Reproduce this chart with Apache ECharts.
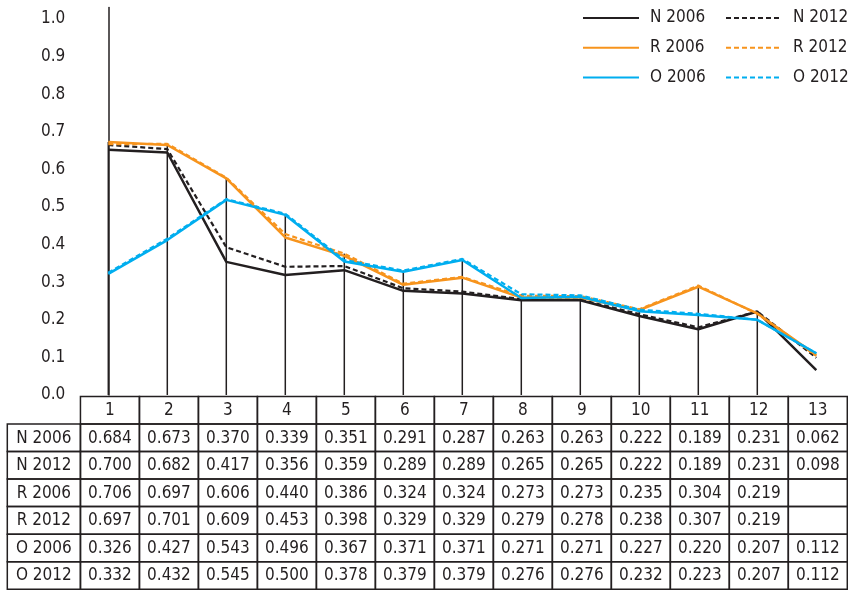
<!DOCTYPE html>
<html><head><meta charset="utf-8">
<script src="https://cdn.jsdelivr.net/npm/echarts@6/dist/echarts.min.js"></script>
<style>html,body{margin:0;padding:0;background:#fff}#c{width:848px;height:590px}</style>
</head><body><div id="c"></div>
<script>
// ---- data ----
const categories = ['1','2','3','4','5','6','7','8','9','10','11','12','13'];
const seriesNames = ['N 2006','N 2012','R 2006','R 2012','O 2006','O 2012'];
const yTickValues = [0,0.1,0.2,0.3,0.4,0.5,0.6,0.7,0.8,0.9,1.0];

// plotted line values
const lineN2006 = [0.652,0.645,0.354,0.319,0.332,0.277,0.270,0.252,0.252,0.210,0.175,0.222,0.066];
const lineN2012 = [0.665,0.654,0.393,0.341,0.343,0.284,0.275,0.255,0.254,0.215,0.180,0.222,0.099];
const lineR2006 = [0.673,0.665,0.576,0.419,0.370,0.293,0.312,0.259,0.259,0.226,0.288,0.217,0.106];
const lineR2012 = [0.667,0.668,0.578,0.428,0.376,0.296,0.314,0.264,0.263,0.228,0.291,0.216,0.104];
const lineO2006 = [0.322,0.412,0.519,0.479,0.355,0.328,0.359,0.258,0.261,0.223,0.213,0.200,0.111];
const lineO2012 = [0.325,0.416,0.521,0.482,0.359,0.331,0.362,0.268,0.265,0.227,0.216,0.200,0.111];

// data table values printed under the chart
const tableN2006 = [0.684,0.673,0.370,0.339,0.351,0.291,0.287,0.263,0.263,0.222,0.189,0.231,0.062];
const tableN2012 = [0.700,0.682,0.417,0.356,0.359,0.289,0.289,0.265,0.265,0.222,0.189,0.231,0.098];
const tableR2006 = [0.706,0.697,0.606,0.440,0.386,0.324,0.324,0.273,0.273,0.235,0.304,0.219,null];
const tableR2012 = [0.697,0.701,0.609,0.453,0.398,0.329,0.329,0.279,0.278,0.238,0.307,0.219,null];
const tableO2006 = [0.326,0.427,0.543,0.496,0.367,0.371,0.371,0.271,0.271,0.227,0.220,0.207,0.112];
const tableO2012 = [0.332,0.432,0.545,0.500,0.378,0.379,0.379,0.276,0.276,0.232,0.223,0.207,0.112];

// ---- build ----
const lines = [lineN2006,lineN2012,lineR2006,lineR2012,lineO2006,lineO2012];
const tableRows = [tableN2006,tableN2012,tableR2006,tableR2012,tableO2006,tableO2012];
const FONT = '"DejaVu Sans Condensed", "DejaVu Sans", sans-serif';
const FS = 17;
const INK = '#231f20';
const colors = {N:'#231f20', R:'#f7941d', O:'#00aeef'};

// drop lines: at categories where every table row has a value, up to the highest line
const dropData = [];
categories.forEach((c,i)=>{
  if (tableRows.every(r=>r[i]!=null)) dropData.push([i, Math.max(...lines.map(l=>l[i]))]);
});

// table cells
const LABEL_X0 = -0.74;
const cells = [];
categories.forEach((c,i)=>cells.push({x0:i+0.5, x1:i+1.5, r:0, text:c, border:true}));
cells.push({x0:LABEL_X0, x1:0.5, r:0, text:'', border:false});
tableRows.forEach((row,ri)=>{
  cells.push({x0:LABEL_X0, x1:0.5, r:ri+1, text:seriesNames[ri], border:true});
  row.forEach((v,i)=>cells.push({x0:i+0.5, x1:i+1.5, r:ri+1, text:v==null?'':v.toFixed(3), border:true}));
});

const lineSeries = seriesNames.map((name,k)=>{
  const dashed = name.endsWith('2012');
  return {
    name, type:'line', xAxisIndex:0, yAxisIndex:0, data:lines[k], symbol:'none',
    color: colors[name[0]], z: 3+k,
    lineStyle:{color: colors[name[0]], width: dashed?2.2:2.5, type: dashed?[5,3]:'solid'}
  };
});

const legendBase = {orient:'vertical', top:9.5, padding:0, itemWidth:56, itemHeight:14, itemGap:12.8,
  itemStyle:{opacity:0},
  lineStyle:{width:2},
  textStyle:{fontFamily:FONT, fontSize:FS, color:INK, padding:[0,0,0,6]}};

const option = {
  animation:false,
  backgroundColor:'#fff',
  textStyle:{fontFamily:FONT},
  grid:[
    {left:108.3, right:31.7, top:7.5, bottom:195},
    {left:7.3, right:0.7, top:396.5, bottom:0.8}
  ],
  xAxis:[
    {gridIndex:0, type:'category', data:categories, boundaryGap:false,
     axisLine:{show:false}, axisTick:{show:false}, axisLabel:{show:false}, splitLine:{show:false}},
    {gridIndex:1, type:'value', min:LABEL_X0, max:13.5, show:false}
  ],
  yAxis:[
    {gridIndex:0, type:'value', min:0, max:1.0306, interval:0.1,
     axisLine:{show:true, lineStyle:{color:INK, width:1.5}}, axisTick:{show:false}, splitLine:{show:false},
     axisLabel:{margin:43, fontSize:FS, fontFamily:FONT, color:INK, showMaxLabel:false,
       formatter:v=>{const t=yTickValues.find(x=>Math.abs(x-v)<1e-6); return t==null?'':t.toFixed(1);}}},
    {gridIndex:1, type:'value', min:0, max:7, inverse:true, show:false}
  ],
  legend:[
    Object.assign({}, legendBase, {data:['N 2006','R 2006','O 2006'], left:582}),
    Object.assign({}, legendBase, {data:['N 2012','R 2012','O 2012'], left:725})
  ],
  series:[
    {type:'custom', xAxisIndex:0, yAxisIndex:0, z:2, clip:false, data:dropData,
     renderItem:(params,api)=>{
       const i=api.value(0); const top=api.coord([i,api.value(1)]); const bot=api.coord([i,0]);
       return {type:'line', shape:{x1:top[0],y1:top[1],x2:bot[0],y2:bot[1]}, style:{stroke:INK, lineWidth:1.5}};
     }},
    ...lineSeries,
    {type:'custom', xAxisIndex:1, yAxisIndex:1, z:10, clip:false,
     data:cells.map(c=>[(c.x0+c.x1)/2, c.r+0.5]),
     renderItem:(params,api)=>{
       const c=cells[params.dataIndex];
       const p0=api.coord([c.x0,c.r]); const p1=api.coord([c.x1,c.r+1]);
       const ch=[];
       if(c.border) ch.push({type:'rect', shape:{x:p0[0],y:p0[1],width:p1[0]-p0[0],height:p1[1]-p0[1]},
         style:{fill:'none', stroke:INK, lineWidth:1.5}});
       ch.push({type:'text', style:{text:c.text, x:(p0[0]+p1[0])/2, y:(p0[1]+p1[1])/2+0.5, align:'center', verticalAlign:'middle',
         fontFamily:FONT, fontSize:FS, fill:INK}});
       return {type:'group', children:ch};
     }}
  ]
};
const chart = echarts.init(document.getElementById('c'), null, {renderer:'canvas'});
chart.setOption(option);
</script></body></html>
